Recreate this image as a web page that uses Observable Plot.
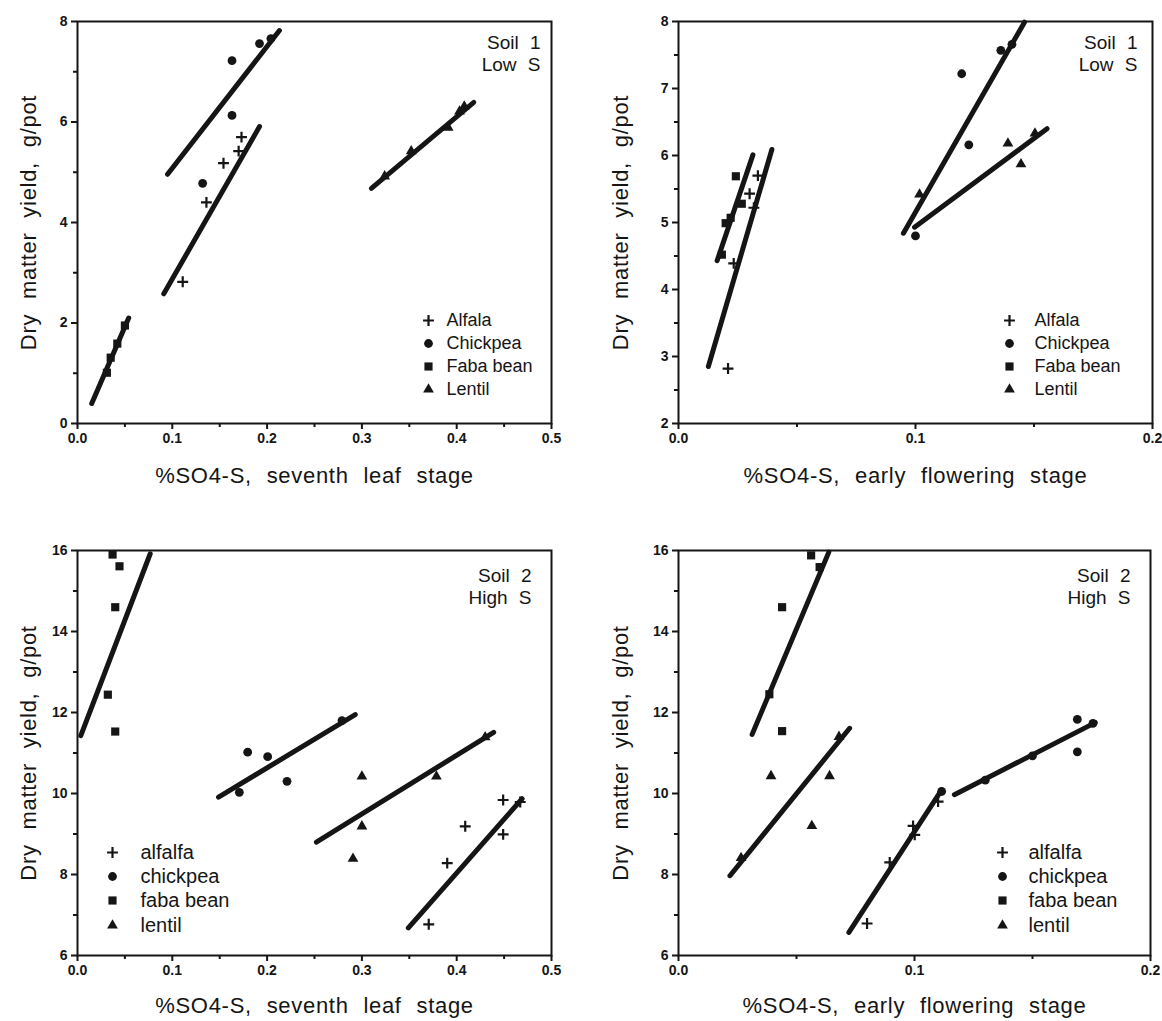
<!DOCTYPE html>
<html>
<head>
<meta charset="utf-8">
<script src="https://cdn.jsdelivr.net/npm/d3@7"></script>
<script src="https://cdn.jsdelivr.net/npm/@observablehq/plot@0.6"></script>
<style>
  html, body { margin: 0; padding: 0; background: #fff; }
  #wrap { position: relative; width: 1162px; height: 1021px; overflow: hidden; background: #fff; }
  #wrap > svg { position: absolute; }
</style>
</head>
<body>
<div id="wrap"></div>
<script>
// ---------------- DATA ----------------
const legendUpper = ["Alfala", "Chickpea", "Faba bean", "Lentil"];
const legendLower = ["alfalfa", "chickpea", "faba bean", "lentil"];
const speciesKeys = ["alfalfa", "chickpea", "faba", "lentil"];

// Panel 1: Soil 1, seventh leaf stage
const p1Species = ["alfalfa","alfalfa","alfalfa","alfalfa","alfalfa",
                   "chickpea","chickpea","chickpea","chickpea","chickpea",
                   "faba","faba","faba","faba",
                   "lentil","lentil","lentil","lentil","lentil"];
const p1X = [0.111,0.136,0.154,0.170,0.173,
             0.132,0.163,0.163,0.192,0.204,
             0.031,0.035,0.042,0.050,
             0.324,0.352,0.391,0.403,0.408];
const p1Y = [2.82,4.40,5.18,5.42,5.70,
             4.78,6.13,7.22,7.56,7.66,
             1.01,1.31,1.59,1.95,
             4.92,5.42,5.89,6.21,6.31];
const p1LineX1 = [0.091,0.095,0.015,0.310];
const p1LineY1 = [2.58,4.96,0.40,4.68];
const p1LineX2 = [0.192,0.213,0.054,0.418];
const p1LineY2 = [5.91,7.82,2.10,6.39];

// Panel 2: Soil 1, early flowering stage
const p2Species = ["alfalfa","alfalfa","alfalfa","alfalfa","alfalfa",
                   "chickpea","chickpea","chickpea","chickpea","chickpea",
                   "faba","faba","faba","faba","faba",
                   "lentil","lentil","lentil","lentil"];
const p2X = [0.0209,0.0233,0.0318,0.0300,0.0335,
             0.100,0.1225,0.1195,0.136,0.1407,
             0.0183,0.0199,0.0220,0.0267,0.0242,
             0.1017,0.139,0.1445,0.1504];
const p2Y = [2.82,4.39,5.22,5.43,5.70,
             4.80,6.16,7.22,7.57,7.66,
             4.52,4.99,5.07,5.28,5.69,
             5.42,6.18,5.87,6.33];
const p2LineX1 = [0.0126,0.0949,0.0163,0.0996];
const p2LineY1 = [2.85,4.84,4.43,4.93];
const p2LineX2 = [0.0394,0.1460,0.0314,0.1555];
const p2LineY2 = [6.09,7.99,6.01,6.40];

// Panel 3: Soil 2, seventh leaf stage
const p3Species = ["alfalfa","alfalfa","alfalfa","alfalfa","alfalfa","alfalfa",
                   "chickpea","chickpea","chickpea","chickpea","chickpea",
                   "faba","faba","faba","faba","faba",
                   "lentil","lentil","lentil","lentil","lentil"];
const p3X = [0.3705,0.390,0.409,0.449,0.449,0.467,
             0.1707,0.1795,0.2006,0.221,0.279,
             0.037,0.0443,0.0398,0.032,0.0398,
             0.300,0.3786,0.300,0.2906,0.430];
const p3Y = [6.77,8.28,9.19,9.84,8.99,9.79,
             10.03,11.02,10.91,10.30,11.80,
             15.90,15.61,14.60,12.44,11.53,
             10.42,10.42,9.19,8.39,11.39];
const p3LineX1 = [0.349,0.1488,0.0035,0.252];
const p3LineY1 = [6.68,9.91,11.43,8.80];
const p3LineX2 = [0.469,0.293,0.0767,0.439];
const p3LineY2 = [9.87,11.95,15.92,11.51];

// Panel 4: Soil 2, early flowering stage
const p4Species = ["alfalfa","alfalfa","alfalfa","alfalfa","alfalfa",
                   "chickpea","chickpea","chickpea","chickpea","chickpea","chickpea",
                   "faba","faba","faba","faba","faba",
                   "lentil","lentil","lentil","lentil","lentil"];
const p4X = [0.0799,0.0895,0.0994,0.1001,0.110,
             0.1115,0.130,0.150,0.169,0.169,0.1756,
             0.0562,0.0598,0.0439,0.0385,0.0439,
             0.0392,0.064,0.0565,0.0265,0.068];
const p4Y = [6.79,8.30,9.20,8.98,9.80,
             10.05,10.33,10.93,11.83,11.03,11.73,
             15.88,15.59,14.60,12.45,11.54,
             10.43,10.43,9.20,8.41,11.40];
const p4LineX1 = [0.0722,0.1169,0.0312,0.0218];
const p4LineY1 = [6.57,9.97,11.46,7.97];
const p4LineX2 = [0.1115,0.1766,0.0637,0.0725];
const p4LineY2 = [10.09,11.75,15.96,11.61];

// Axis ticks
const xTicksLeaf = [0,0.1,0.2,0.3,0.4,0.5];
const xMinorLeaf = [0.05,0.15,0.25,0.35,0.45];
const xTicksFlower = [0,0.1,0.2];
const xMinorFlower = [0.05,0.15];
const yTicksSoil1a = [0,2,4,6,8];
const yMinorSoil1a = [1,3,5,7];
const yTicksSoil1b = [2,3,4,5,6,7,8];
const yMinorSoil1b = [2.5,3.5,4.5,5.5,6.5,7.5];
const yTicksSoil2 = [6,8,10,12,14,16];
const yMinorSoil2 = [7,9,11,13,15];

const yTitle = "Dry matter yield, g/pot";
const xTitleLeaf = "%SO4-S, seventh leaf stage";
const xTitleFlower = "%SO4-S, early flowering stage";

// ---------------- DRAWING ----------------
const INK = "#151515";
const FONT = "'Liberation Sans', Arial, Helvetica, sans-serif";
const symbolOpts = {
  alfalfa: {symbol: "plus", r: 3.6, stroke: INK, strokeWidth: 2.2, fill: "none"},
  chickpea: {symbol: "circle", r: 4.4, fill: INK, stroke: "none"},
  faba: {symbol: "square", r: 4.6, fill: INK, stroke: "none"},
  lentil: {symbol: "triangle", r: 4.0, fill: INK, stroke: "none"}
};

function makePanel(c) {
  const pts = c.species.map((s, i) => ({s, x: c.X[i], y: c.Y[i]}));
  const lines = c.lx1.map((_, i) => ({x1: c.lx1[i], y1: c.ly1[i], x2: c.lx2[i], y2: c.ly2[i]}));
  const marks = [
    Plot.axisX({ticks: c.xTicks, tickSize: 6, tickPadding: 4, tickFormat: d3.format(".1f"),
      strokeWidth: 2, stroke: INK, fill: INK, fontSize: 14, fontWeight: "bold", label: null}),
    Plot.axisX({ticks: c.xMinor, tickSize: 4, tickFormat: () => "", strokeWidth: 2, stroke: INK, label: null}),
    Plot.axisY({ticks: c.yTicks, tickSize: 6, tickPadding: 4, tickFormat: d3.format("d"),
      strokeWidth: 2, stroke: INK, fill: INK, fontSize: 14, fontWeight: "bold", label: null}),
    Plot.axisY({ticks: c.yMinor, tickSize: 4, tickFormat: () => "", strokeWidth: 2, stroke: INK, label: null}),
    Plot.frame({stroke: INK, strokeWidth: 2}),
    Plot.link(lines, {x1: "x1", y1: "y1", x2: "x2", y2: "y2", stroke: INK, strokeWidth: 5, strokeLinecap: "round"})
  ];
  for (const k of speciesKeys) {
    marks.push(Plot.dot(pts.filter(d => d.s === k), {x: "x", y: "y", ...symbolOpts[k]}));
  }
  // legend
  speciesKeys.forEach((k, i) => {
    marks.push(Plot.dot([k], {frameAnchor: c.legAnchor, dx: c.legMarkDx, dy: c.legDy[i], ...symbolOpts[k]}));
    marks.push(Plot.text([c.legendNames[i]], {frameAnchor: c.legAnchor, dx: c.legTextDx, dy: c.legDy[i],
      textAnchor: "start", lineAnchor: "middle", fontSize: c.legFont, fontWeight: "normal", fill: INK}));
  });
  // soil label
  marks.push(Plot.text([c.soil], {frameAnchor: "top-right", dx: c.soilDx, dy: c.soilDy, textAnchor: "end",
    lineAnchor: "top", lineHeight: 1.2, fontSize: 19, fontWeight: "normal", fill: INK}));
  // titles
  marks.push(Plot.text([c.xTitle], {frameAnchor: "bottom", dy: c.xTitleDy, textAnchor: "middle", lineAnchor: "middle",
    fontSize: 22, fontWeight: "normal", fill: INK}));
  marks.push(Plot.text([yTitle], {frameAnchor: "left", dx: c.yTitleDx, rotate: -90, textAnchor: "middle", lineAnchor: "middle",
    fontSize: 22, fontWeight: "normal", fill: INK}));

  const svg = Plot.plot({
    width: c.width, height: c.height,
    marginLeft: c.ml, marginRight: c.mr, marginTop: c.mt, marginBottom: c.mb,
    x: {domain: c.xDomain, axis: null, label: null},
    y: {domain: c.yDomain, axis: null, label: null},
    style: {fontFamily: FONT, fontSize: "14px", background: "transparent", color: INK},
    marks
  });
  svg.style.left = c.left + "px";
  svg.style.top = c.top + "px";
  d3.select(svg).selectAll("text").each(function() {
    const t = (this.textContent || "").trim();
    if (t.startsWith("%SO4") || t.startsWith("Dry")) {
      this.style.wordSpacing = "8px";
      this.style.letterSpacing = "0.7px";
    }
    if (t.startsWith("Soil")) this.style.wordSpacing = "6px";
  });
  document.getElementById("wrap").appendChild(svg);
}

const topLegDy = [-103, -80, -57, -34];
const botLegDy = [-103, -79, -55, -30];

makePanel({
  left: 0, top: 0, width: 581, height: 510, ml: 77, mr: 30, mt: 21, mb: 87,
  xDomain: [0, 0.5], yDomain: [0, 8],
  xTicks: xTicksLeaf, xMinor: xMinorLeaf, yTicks: yTicksSoil1a, yMinor: yMinorSoil1a,
  species: p1Species, X: p1X, Y: p1Y, lx1: p1LineX1, ly1: p1LineY1, lx2: p1LineX2, ly2: p1LineY2,
  legendNames: legendUpper, legAnchor: "bottom-right", legMarkDx: -123, legTextDx: -105, legDy: topLegDy, legFont: 18,
  soil: "Soil 1\nLow S", soilDx: -11, soilDy: 11,
  xTitle: xTitleLeaf, xTitleDy: 52, yTitleDx: -49
});
makePanel({
  left: 581, top: 0, width: 581, height: 510, ml: 97, mr: 10, mt: 21, mb: 87,
  xDomain: [0, 0.2], yDomain: [2, 8],
  xTicks: xTicksFlower, xMinor: xMinorFlower, yTicks: yTicksSoil1b, yMinor: yMinorSoil1b,
  species: p2Species, X: p2X, Y: p2Y, lx1: p2LineX1, ly1: p2LineY1, lx2: p2LineX2, ly2: p2LineY2,
  legendNames: legendUpper, legAnchor: "bottom-right", legMarkDx: -143, legTextDx: -118, legDy: topLegDy, legFont: 18,
  soil: "Soil 1\nLow S", soilDx: -15, soilDy: 11,
  xTitle: xTitleFlower, xTitleDy: 52, yTitleDx: -58
});
makePanel({
  left: 0, top: 510, width: 581, height: 511, ml: 77, mr: 30, mt: 40, mb: 66,
  xDomain: [0, 0.5], yDomain: [6, 16],
  xTicks: xTicksLeaf, xMinor: xMinorLeaf, yTicks: yTicksSoil2, yMinor: yMinorSoil2,
  species: p3Species, X: p3X, Y: p3Y, lx1: p3LineX1, ly1: p3LineY1, lx2: p3LineX2, ly2: p3LineY2,
  legendNames: legendLower, legAnchor: "bottom-left", legMarkDx: 35, legTextDx: 63, legDy: botLegDy, legFont: 20,
  soil: "Soil 2\nHigh S", soilDx: -20, soilDy: 15,
  xTitle: xTitleLeaf, xTitleDy: 50, yTitleDx: -49
});
makePanel({
  left: 581, top: 510, width: 581, height: 511, ml: 97, mr: 12, mt: 40, mb: 66,
  xDomain: [0, 0.2], yDomain: [6, 16],
  xTicks: xTicksFlower, xMinor: xMinorFlower, yTicks: yTicksSoil2, yMinor: yMinorSoil2,
  species: p4Species, X: p4X, Y: p4Y, lx1: p4LineX1, ly1: p4LineY1, lx2: p4LineX2, ly2: p4LineY2,
  legendNames: legendLower, legAnchor: "bottom-right", legMarkDx: -148, legTextDx: -122, legDy: botLegDy, legFont: 20,
  soil: "Soil 2\nHigh S", soilDx: -20, soilDy: 15,
  xTitle: xTitleFlower, xTitleDy: 50, yTitleDx: -58
});
</script>
</body>
</html>
